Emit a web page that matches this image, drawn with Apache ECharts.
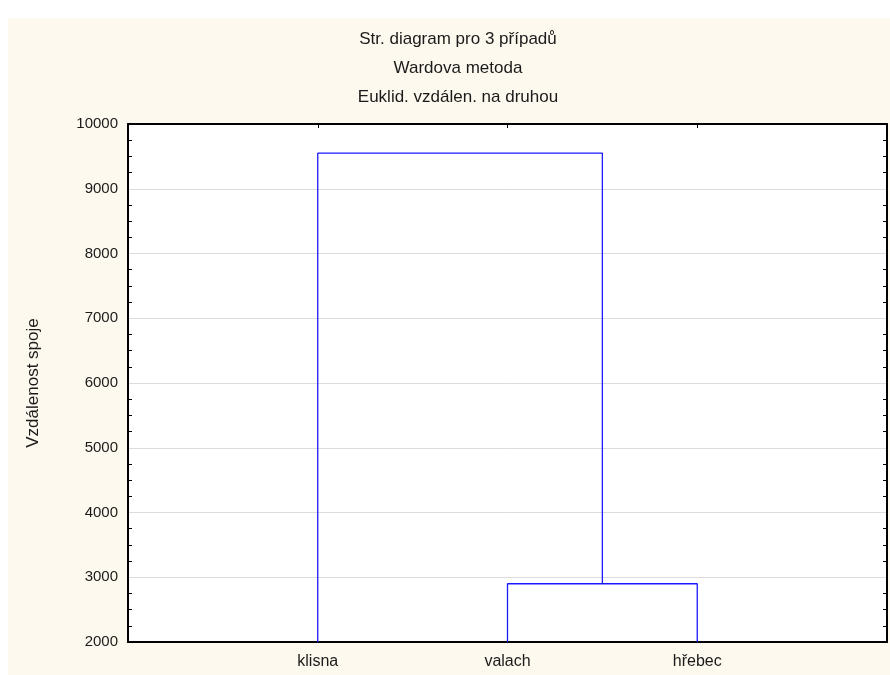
<!DOCTYPE html>
<html>
<head>
<meta charset="utf-8">
<script src="https://cdn.jsdelivr.net/npm/echarts@6/dist/echarts.min.js"></script>
<style>
html,body{margin:0;padding:0;background:#ffffff;}
#chart{width:890px;height:675px;}
</style>
</head>
<body>
<div id="chart"></div>
<script>
// Data
const titleLines = ['Str. diagram pro 3 případů', 'Wardova metoda', 'Euklid. vzdálen. na druhou'];
const yAxisName = 'Vzdálenost spoje';
const leaves = ['klisna', 'valach', 'hřebec'];       // leaf order on x axis (positions 1..3)
const yTicks = [2000, 3000, 4000, 5000, 6000, 7000, 8000, 9000, 10000];
// merges: [left member, right member, linkage distance]; members: leaf index or 'c'+merge index
const mergeLeft = [1, 0];
const mergeRight = [2, 'c0'];
const mergeHeight = [2900, 9550];
const baseLevel = 2000;

// Build dendrogram U-links from the merge arrays
const nodePos = {};   // key -> [x, y]
leaves.forEach((l, i) => { nodePos[i] = [i + 1, baseLevel]; });
const links = [];
mergeHeight.forEach((h, k) => {
  const a = nodePos[mergeLeft[k]], b = nodePos[mergeRight[k]];
  links.push([[a[0], a[1]], [a[0], h], [b[0], h], [b[0], b[1]]]);
  nodePos['c' + k] = [(a[0] + b[0]) / 2, h];
});

const font = 'Arial, "Liberation Sans", sans-serif';
const txt = '#1a1a1a';

const chart = echarts.init(document.getElementById('chart'), null, {renderer: 'canvas'});
chart.setOption({
  animation: false,
  backgroundColor: '#ffffff',
  graphic: [
    {type: 'rect', z: -10, silent: true, shape: {x: 8, y: 18, width: 882, height: 657}, style: {fill: '#fdf9ee'}},
    {type: 'rect', z: -9, silent: true, shape: {x: 128, y: 124, width: 759, height: 518}, style: {fill: '#ffffff'}}
  ].concat(titleLines.map((t, i) => ({
    type: 'text', x: 458, y: 31 + i * 29, silent: true,
    style: {text: t, font: '17px ' + font, fill: txt, textAlign: 'center', textVerticalAlign: 'top'}
  }))),
  grid: {left: 128, right: 3, top: 124, bottom: 33, containLabel: false},
  xAxis: [{
    type: 'value', min: 0, max: leaves.length + 1, interval: 1, position: 'bottom',
    axisLine: {show: true, onZero: false, lineStyle: {color: '#000', width: 2}},
    axisTick: {show: false},
    splitLine: {show: false},
    axisLabel: {
      fontFamily: font, fontSize: 16, color: txt, margin: 12,
      formatter: v => (v >= 1 && v <= leaves.length) ? leaves[v - 1] : ''
    }
  }, {
    type: 'value', min: 0, max: leaves.length + 1, interval: 1, position: 'top',
    axisLine: {show: true, onZero: false, lineStyle: {color: '#000', width: 2}},
    axisTick: {show: true, inside: true, length: 4, lineStyle: {color: '#000'}},
    splitLine: {show: false},
    axisLabel: {show: false}
  }],
  yAxis: [{
    type: 'value', min: yTicks[0], max: yTicks[yTicks.length - 1], interval: 1000, position: 'left',
    name: yAxisName, nameLocation: 'middle', nameGap: 86, nameRotate: 90,
    nameTextStyle: {fontFamily: font, fontSize: 17, color: txt},
    axisLine: {show: true, onZero: false, lineStyle: {color: '#000', width: 2}},
    axisTick: {show: false, inside: true},
    minorTick: {show: true, splitNumber: 4, length: 4, lineStyle: {color: '#000'}},
    splitLine: {show: true, lineStyle: {color: '#dcdcdc', width: 1}},
    axisLabel: {fontFamily: font, fontSize: 15, color: txt, margin: 10, formatter: v => String(v)}
  }, {
    type: 'value', min: yTicks[0], max: yTicks[yTicks.length - 1], interval: 1000, position: 'right',
    axisLine: {show: true, onZero: false, lineStyle: {color: '#000', width: 2}},
    axisTick: {show: false, inside: true},
    minorTick: {show: true, splitNumber: 4, length: 4, lineStyle: {color: '#000'}},
    splitLine: {show: false},
    axisLabel: {show: false}
  }],
  series: links.map(pts => ({
    type: 'line', xAxisIndex: 0, yAxisIndex: 0, data: pts, symbol: 'none',
    lineStyle: {color: '#1a1aff', width: 1.3}, silent: true, z: 3
  }))
});
</script>
</body>
</html>
